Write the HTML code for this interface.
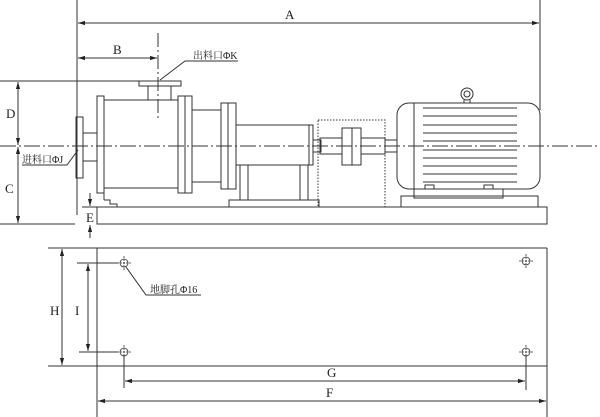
<!DOCTYPE html><html><head><style>body{margin:0;background:#fff}svg{display:block}text{font-family:"Liberation Serif","Noto Serif CJK SC",serif;fill:#222}</style></head><body>
<svg width="600" height="417" viewBox="0 0 600 417" xmlns="http://www.w3.org/2000/svg">
<defs><marker id="ar" viewBox="0 0 10 10" refX="10" refY="5" markerWidth="7" markerHeight="7" orient="auto-start-reverse"><path d="M0,2 L10,5 L0,8z" fill="#222"/></marker></defs>
<g stroke="#333" stroke-width="1" fill="none">
<!-- dimension A,B -->
<line x1="77" y1="0" x2="77" y2="215"/>
<line x1="540" y1="0" x2="540" y2="110"/>
<line x1="78" y1="23" x2="539" y2="23" marker-start="url(#ar)" marker-end="url(#ar)"/>
<line x1="78" y1="58" x2="157" y2="58" marker-start="url(#ar)" marker-end="url(#ar)"/>
<line x1="158" y1="33" x2="158" y2="120" stroke-dasharray="14,3,2,3"/>
<line x1="0" y1="81" x2="180" y2="81"/>
<line x1="18" y1="82" x2="18" y2="145" marker-start="url(#ar)" marker-end="url(#ar)"/>
<line x1="18" y1="147" x2="18" y2="223" marker-start="url(#ar)" marker-end="url(#ar)"/>
<line x1="0" y1="224" x2="75" y2="224"/>
<line x1="90" y1="193" x2="90" y2="206" marker-end="url(#ar)"/>
<line x1="90" y1="238" x2="90" y2="225" marker-end="url(#ar)"/>
<line x1="82" y1="207" x2="97" y2="207"/>
<!-- centerline -->
<line x1="0" y1="146" x2="600" y2="146" stroke-dasharray="16,3,2,3"/>
<!-- pump -->
<rect x="139" y="81" width="42" height="5"/>
<rect x="148" y="86" width="23" height="14"/>
<rect x="76" y="117" width="7" height="61"/>
<rect x="83" y="133" width="14" height="28"/>
<rect x="97" y="96" width="7" height="97"/>
<rect x="104" y="100" width="74" height="88"/>
<line x1="104" y1="188" x2="104" y2="200"/><path d="M104,200 h6 v4 h7 v3"/>
<rect x="178" y="96" width="14" height="97"/><line x1="185" y1="96" x2="185" y2="193"/>
<rect x="192" y="110" width="29" height="72"/>
<rect x="221" y="103" width="15" height="86"/><line x1="228" y1="103" x2="228" y2="189"/>
<rect x="236" y="125" width="77" height="40"/><line x1="309" y1="125" x2="309" y2="165"/>
<rect x="240" y="165" width="8" height="35"/><rect x="300" y="165" width="8" height="35"/>
<rect x="229" y="200" width="90" height="7"/>
<rect x="313" y="140" width="8" height="12"/>
<rect x="318" y="120" width="67" height="87" stroke-dasharray="1.5,1.5"/>
<rect x="320" y="138" width="22" height="16"/>
<rect x="342" y="128" width="19" height="37"/><line x1="352" y1="128" x2="352" y2="165"/>
<rect x="361" y="138" width="24" height="16"/>
<rect x="385" y="140" width="12" height="12"/>
<!-- motor -->
<rect x="397" y="103" width="143" height="86" rx="12"/>
<line x1="414" y1="103" x2="414" y2="189"/>
<line x1="423" y1="108" x2="517" y2="108"/><line x1="423" y1="116" x2="517" y2="116"/>
<line x1="423" y1="125" x2="517" y2="125"/><line x1="423" y1="133" x2="517" y2="133"/>
<line x1="423" y1="141" x2="517" y2="141"/><line x1="423" y1="150" x2="517" y2="150"/>
<line x1="423" y1="158" x2="517" y2="158"/><line x1="423" y1="166" x2="517" y2="166"/>
<line x1="423" y1="174" x2="517" y2="174"/><line x1="423" y1="182" x2="517" y2="182"/>
<circle cx="467" cy="94" r="6"/><circle cx="467" cy="94" r="3"/><line x1="464" y1="100" x2="464" y2="103"/><line x1="470" y1="100" x2="470" y2="103"/>
<rect x="425" y="185" width="9" height="4"/><rect x="484" y="185" width="9" height="4"/>
<rect x="414" y="189" width="89" height="9"/>
<rect x="401" y="196" width="137" height="11"/>
<rect x="97" y="207" width="450" height="17"/>
<!-- leaders -->
<path d="M160,80 L185,61 H238"/>
<path d="M78,150 L67,165 H22"/>
<!-- plan view -->
<rect x="97" y="248" width="450" height="118" stroke-width="0" />
<line x1="48" y1="248" x2="547" y2="248"/><line x1="48" y1="366" x2="547" y2="366"/>
<line x1="547" y1="248" x2="547" y2="417"/><line x1="97" y1="248" x2="97" y2="417"/>
<line x1="62" y1="249" x2="62" y2="365" marker-start="url(#ar)" marker-end="url(#ar)"/>
<line x1="77" y1="263" x2="118" y2="263"/><line x1="79" y1="352" x2="118" y2="352"/>
<line x1="88" y1="264" x2="88" y2="351" marker-start="url(#ar)" marker-end="url(#ar)"/>
<g stroke-width=".8"><circle cx="124" cy="263" r="4"/><circle cx="124" cy="352" r="4"/><circle cx="526" cy="261" r="4"/><circle cx="526" cy="352" r="4"/>
<path d="M117,263h14M124,256v14M117,352h14M124,345v14M519,261h14M526,254v14M519,352h14M526,345v14" stroke-dasharray="2,1"/></g>
<line x1="124" y1="356" x2="124" y2="388"/><line x1="526" y1="356" x2="526" y2="390"/>
<line x1="125" y1="381" x2="525" y2="381" marker-start="url(#ar)" marker-end="url(#ar)"/>
<line x1="98" y1="401" x2="546" y2="401" marker-start="url(#ar)" marker-end="url(#ar)"/>
<path d="M126,267 L146,295 H201"/>
</g>
<g font-size="13">
<text x="285" y="19">A</text><text x="113" y="54">B</text>
<text x="6" y="118">D</text><text x="5" y="193">C</text><text x="86" y="222">E</text>
<text x="50" y="315">H</text><text x="75" y="315">I</text>
<text x="327" y="377">G</text><text x="326" y="397">F</text>
</g>
<g font-size="10">
<text x="193" y="59">出料口ΦK</text>
<text x="22" y="163">进料口ΦJ</text>
<text x="150" y="293">地脚孔Φ16</text>
</g>
</svg></body></html>
